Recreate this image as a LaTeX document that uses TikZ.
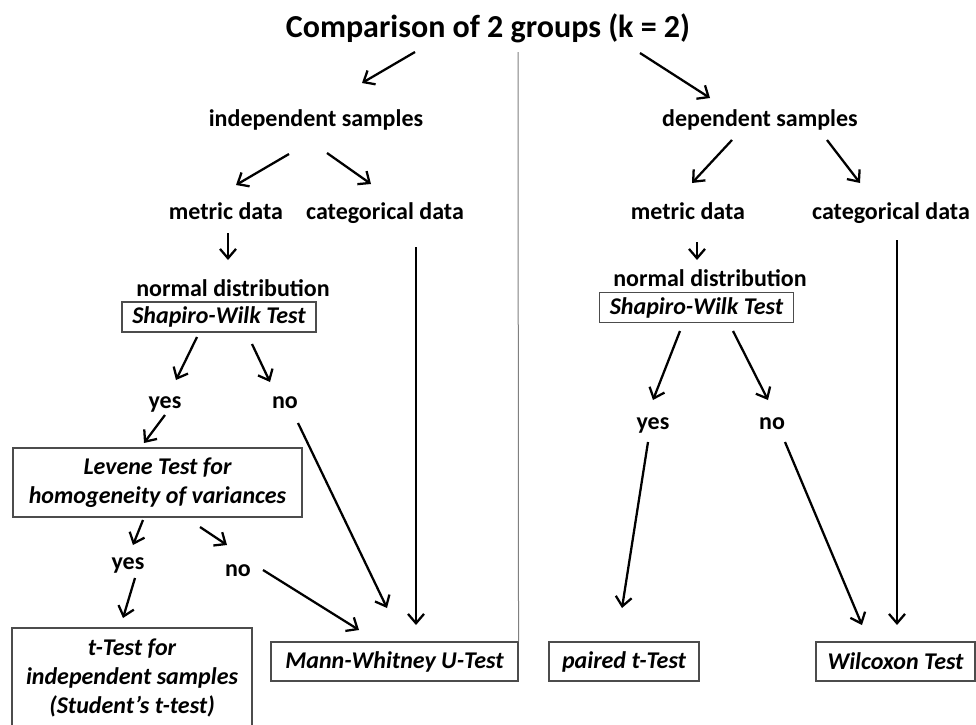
\documentclass[tikz,border=0pt]{standalone}
\usepackage{fontspec}
\setmainfont{Carlito}
\usetikzlibrary{arrows.meta,calc}

\begin{document}
\begin{tikzpicture}[x=0.75pt, y=-0.75pt, >={Straight Barb[length=7pt,width=12pt]},
    lbl/.style={inner sep=0pt, font=\bfseries\fontsize{18}{22}\selectfont, text height=13pt, text depth=4pt},
    testbox/.style={draw=black!70, line width=0.8pt, inner sep=0pt, align=center,
        font=\bfseries\itshape\fontsize{18}{21.5}\selectfont},
    arr/.style={->, line width=1.7pt}]
    \useasboundingbox (0,0) rectangle (976,725);

    % 1. Tiêu đề và các nhóm mẫu
    \node[inner sep=0pt, font=\bfseries\fontsize{24}{29}\selectfont] (title) at (488,28) {Comparison of 2 groups (k = 2)};
    \node[lbl] (indep) at (316,120) {independent samples};
    \node[lbl] (dep) at (760,120) {dependent samples};
    \node[lbl] (metricL) at (226,213) {metric data};
    \node[lbl] (catL) at (385,213) {categorical data};
    \node[lbl] (metricR) at (688,213) {metric data};
    \node[lbl] (catR) at (891,213) {categorical data};

    % 2. Kiểm tra phân phối chuẩn
    \node[lbl] (normL) at (233,290) {normal distribution};
    \node[testbox, minimum width=145.5pt, minimum height=22.5pt] (swL) at (219,317) {Shapiro-Wilk Test};
    \node[lbl] (normR) at (710,280) {normal distribution};
    \node[testbox, minimum width=146pt, minimum height=23pt] (swR) at (696.5,307.5) {Shapiro-Wilk Test};
    \node[lbl] (yesL) at (165,402) {yes};
    \node[lbl] (noL) at (285,402) {no};
    \node[lbl] (yesR) at (653,423) {yes};
    \node[lbl] (noR) at (772,423) {no};

    % 3. Levene
    \node[testbox, minimum width=216.75pt, minimum height=51.75pt] (levene) at (157.5,482.5) {Levene Test for\\homogeneity of variances};
    \node[lbl] (yesL2) at (128,563) {yes};
    \node[lbl] (noL2) at (238,570) {no};

    % 4. Các phép kiểm định
    \node[testbox, minimum width=180pt, minimum height=75pt] (ttest) at (132,678) {t-Test for\\independent samples\\(Student’s t-test)};
    \node[testbox, minimum width=185.25pt, minimum height=29.25pt] (mw) at (394.5,661.5) {Mann-Whitney U-Test};
    \node[testbox, minimum width=112.5pt, minimum height=29.25pt] (paired) at (624,661.5) {paired t-Test};
    \node[testbox, minimum width=119.25pt, minimum height=29.25pt] (wil) at (895.5,661.5) {Wilcoxon Test};

    % 5. Đường phân cách
    \coordinate (divtop) at (518,52);
    \draw[gray, line width=0.75pt] (divtop) -- (mw.north east);

    % 6. Mũi tên
    \draw[arr] ($(title)+(-73,24)$) -- ($(indep)+(46,-37)$);
    \draw[arr] ($(title)+(152,25)$) -- ($(dep)+(-50,-22)$);
    \draw[arr] ($(indep)+(-27,34)$) -- ($(metricL)+(10,-28)$);
    \draw[arr] ($(indep)+(11,33)$) -- ($(catL)+(-14,-29)$);
    \draw[arr] ($(metricL)+(2,20)$) -- ($(normL)+(-5,-30)$);
    \draw[arr] ($(catL)+(31,34)$) -- ($(mw)+(21.5,-36.5)$);
    \draw[arr] ($(swL)+(-22,20)$) -- ($(yesL)+(11,-22)$);
    \draw[arr] ($(swL)+(33,27)$) -- ($(noL)+(-15,-20)$);
    \draw[arr] ($(yesL)+(0,13)$) -- ($(levene)+(-13.5,-39.5)$);
    \draw[arr] ($(noL)+(13,21)$) -- ($(mw)+(-7.5,-53.5)$);
    \draw[arr] ($(levene)+(-14.5,37.5)$) -- ($(yesL2)+(5,-18)$);
    \draw[arr] ($(levene)+(42.5,44.5)$) -- ($(noL2)+(-11,-25)$);
    \draw[arr] ($(yesL2)+(7,15)$) -- ($(ttest)+(-9,-60)$);
    \draw[arr] ($(noL2)+(25,0)$) -- ($(mw)+(-35.5,-31.5)$);

    \draw[arr] ($(dep)+(-28,20)$) -- ($(metricR)+(4,-30)$);
    \draw[arr] ($(dep)+(67,20)$) -- ($(catR)+(-31,-30)$);
    \draw[arr] ($(metricR)+(9,29)$) -- ($(normR)+(-13,-20)$);
    \draw[arr] ($(catR)+(6,27)$) -- ($(wil)+(1.5,-36.5)$);
    \draw[arr] ($(swR)+(-16.5,23.5)$) -- ($(yesR)+(0,-23)$);
    \draw[arr] ($(swR)+(36.5,23.5)$) -- ($(noR)+(-4,-23)$);
    \draw[arr] ($(yesR)+(-5,19)$) -- ($(paired)+(-2,-53.5)$);
    \draw[arr] ($(noR)+(13,19)$) -- ($(wil)+(-33.5,-36.5)$);
\end{tikzpicture}
\end{document}
